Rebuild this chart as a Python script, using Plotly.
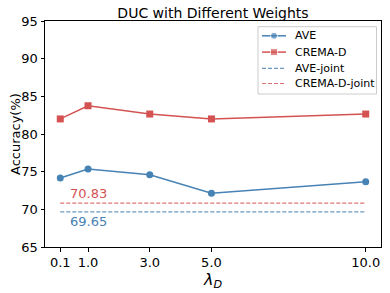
import plotly.graph_objects as go

lambdas = [0.1, 1.0, 3.0, 5.0, 10.0]
tick_labels = ["0.1", "1.0", "3.0", "5.0", "10.0"]
ave = [74.15, 75.35, 74.6, 72.15, 73.65]
crema = [82.0, 83.75, 82.65, 82.0, 82.65]
ave_joint = 69.65
crema_joint = 70.83
series_names = ["AVE", "CREMA-D", "AVE-joint", "CREMA-D-joint"]

BLUE = "#4682b4"
RED = "#d45252"
FONT = "DejaVu Sans, sans-serif"

W, H = 390, 293
ML, MR, MT, MB = 45, 9, 21, 46
PW, PH = W - ML - MR, H - MT - MB

styles = [
    dict(mode="lines+markers", line=dict(color=BLUE, width=1.5),
         marker=dict(symbol="circle", size=7, color=BLUE), opacity=1),
    dict(mode="lines+markers", line=dict(color=RED, width=1.5),
         marker=dict(symbol="square", size=7, color=RED), opacity=1),
    dict(mode="lines", line=dict(color=BLUE, width=1.2, dash="4px,2px"), opacity=0.8),
    dict(mode="lines", line=dict(color=RED, width=1.2, dash="4px,2px"), opacity=0.8),
]
series_x = [lambdas, lambdas, [lambdas[0], lambdas[-1]], [lambdas[0], lambdas[-1]]]
series_y = [ave, crema, [ave_joint, ave_joint], [crema_joint, crema_joint]]

fig = go.Figure()
for name, xs, ys, st in zip(series_names, series_x, series_y, styles):
    fig.add_trace(go.Scatter(x=xs, y=ys, name=name, showlegend=False, **st))

fig.add_annotation(x=0.35, y=crema_joint, text=f"{crema_joint:.2f}", showarrow=False,
                   xanchor="left", yanchor="bottom",
                   font=dict(family=FONT, size=13, color=RED))
fig.add_annotation(x=0.35, y=ave_joint, text=f"{ave_joint:.2f}", showarrow=False,
                   xanchor="left", yanchor="top",
                   font=dict(family=FONT, size=13, color=BLUE))

# --- compact legend (matplotlib style), on a pixel-unit overlay axis ---
bx0, bx1, by0, by1 = 213, 331.5, 5.7, 73
fig.add_trace(go.Scatter(x=[bx0, bx1, bx1, bx0, bx0], y=[by0, by0, by1, by1, by0],
                         xaxis="x2", yaxis="y2", mode="lines", showlegend=False,
                         hoverinfo="skip", line=dict(color="#cccccc", width=1)))

entry_y = [14.8, 31.1, 47.4, 62.5]
for name, ey, st in zip(series_names, entry_y, styles):
    tr = dict(st)
    if "marker" in tr:
        tr["marker"] = {**tr["marker"], "size": [0, 7, 0]}
    fig.add_trace(go.Scatter(x=[217, 229, 241], y=[ey, ey, ey], xaxis="x2", yaxis="y2",
                             showlegend=False, hoverinfo="skip", **tr))
    fig.add_annotation(x=248, y=ey, xref="x2", yref="y2", text=name, showarrow=False,
                       xanchor="left", yanchor="middle",
                       font=dict(family=FONT, size=11, color="black"))

# y-axis title as annotation for exact placement
fig.add_annotation(x=0, xref="paper", xshift=-30, y=0.5, yref="paper", text="Accuracy(%)",
                   textangle=-90, showarrow=False, xanchor="center", yanchor="middle",
                   font=dict(family=FONT, size=13, color="black"))

axis_common = dict(showgrid=False, zeroline=False, showline=True, linecolor="black",
                   linewidth=1, mirror=True, ticks="outside", ticklen=3.5,
                   tickcolor="black", tickfont=dict(family=FONT, size=13, color="black"))

fig.update_layout(
    width=W, height=H,
    margin=dict(l=ML, r=MR, t=MT, b=MB, autoexpand=False),
    paper_bgcolor="white", plot_bgcolor="white",
    title=dict(text="DUC with Different Weights", x=0.5, xref="paper", xanchor="center",
               y=1, yref="paper", yanchor="bottom", pad=dict(b=3),
               font=dict(family=FONT, size=14, color="black")),
    xaxis=dict(range=[-0.395, 10.495], tickmode="array", tickvals=lambdas,
               ticktext=tick_labels, automargin=False,
               title=dict(text="<i>λ</i><sub><i>D</i></sub>", standoff=0,
                          font=dict(family=FONT, size=16, color="black")),
               **axis_common),
    yaxis=dict(range=[65, 95], tickmode="array", tickvals=[65, 70, 75, 80, 85, 90, 95],
               automargin=False, **axis_common),
    xaxis2=dict(overlaying="x", anchor="y2", range=[0, PW], visible=False, fixedrange=True),
    yaxis2=dict(overlaying="y", anchor="x2", range=[PH, 0], visible=False, fixedrange=True),
    showlegend=False,
)

fig.write_html("out.html", config={"displayModeBar": False},
               post_script="document.body.style.margin='0';document.body.style.padding='0';")
